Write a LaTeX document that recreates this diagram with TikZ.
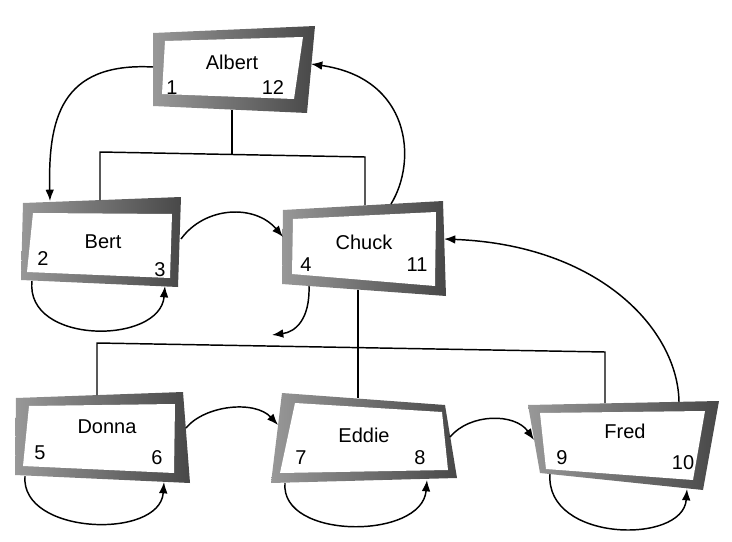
\documentclass[tikz,border=0pt]{standalone}
\usepackage{fontspec}
\setmainfont{Liberation Sans}
\usetikzlibrary{arrows.meta}
\definecolor{frameleft}{RGB}{152,152,152}
\definecolor{frameright}{RGB}{72,72,72}

\begin{document}
\begin{tikzpicture}[x=0.75pt,y=0.75pt,yscale=-1,xscale=1,
  frame/.style={left color=frameleft, right color=frameright},
  pane/.style={fill=white},
  tag/.style={font=\fontsize{15}{18}\selectfont, inner sep=0pt},
  link/.style={line width=1.1pt},
  move/.style={line width=1.1pt, -{Latex[length=8.5pt,width=6.5pt]}}]
\useasboundingbox (0,0) rectangle (732,542);

%Shape: Albert
\shade [frame] (153,33) -- (315,26) -- (307,113) -- (153,106) -- cycle ;
\fill [pane] (165,41) -- (303,37) -- (294,99) -- (162,94) -- cycle ;
%Shape: Bert
\shade [frame] (23,203) -- (181,197) -- (178,287) -- (21,280) -- cycle ;
\fill [pane] (33,213) -- (172,214) -- (170,278) -- (27,272) -- cycle ;
%Shape: Chuck
\shade [frame] (283,210) -- (443,201) -- (446,296) -- (282,284) -- cycle ;
\fill [pane] (293,219) -- (436,212) -- (435,286) -- (292,274) -- cycle ;
%Shape: Donna
\shade [frame] (16,398) -- (183,392) -- (190,483) -- (15,475) -- cycle ;
\fill [pane] (29,406) -- (175,404) -- (174,473) -- (23,466) -- cycle ;
%Shape: Eddie
\shade [frame] (282,393) -- (445,405) -- (457,478) -- (271,483) -- cycle ;
\fill [pane] (295,403) -- (442,412) -- (448,470) -- (280,473) -- cycle ;
%Shape: Fred
\shade [frame] (528,405) -- (719,401) -- (703,490) -- (540,473) -- cycle ;
\fill [pane] (540,413) -- (705,411) -- (693,480) -- (546,469) -- cycle ;

% Ports
\coordinate (albert-w) at (153,67);
\coordinate (albert-s) at (232,110);
\coordinate (albert-e) at (311,64);
\coordinate (albert-fork) at (232,154.5);
\coordinate (bert-n) at (100,200);
\coordinate (bert-in) at (50,201);
\coordinate (bert-e) at (181,239);
\coordinate (bert-out) at (32,281);
\coordinate (bert-back) at (165,286);
\coordinate (chuck-n) at (365,205);
\coordinate (chuck-up) at (391,204);
\coordinate (chuck-w) at (283,237);
\coordinate (chuck-e) at (444,239);
\coordinate (chuck-s) at (358,290);
\coordinate (chuck-out) at (309,286);
\coordinate (chuck-end) at (272,335);
\coordinate (donna-n) at (97,395);
\coordinate (donna-e) at (186,428);
\coordinate (donna-out) at (25,476);
\coordinate (donna-back) at (164,482);
\coordinate (eddie-n) at (358,398);
\coordinate (eddie-w) at (278,425);
\coordinate (eddie-e) at (450,437);
\coordinate (eddie-out) at (285,483);
\coordinate (eddie-back) at (427,480);
\coordinate (fred-n) at (605,403);
\coordinate (fred-up) at (679,402);
\coordinate (fred-w) at (534,440);
\coordinate (fred-out) at (550,474);
\coordinate (fred-back) at (687,489);

%Straight Lines: upper tree
\draw [link] (albert-s) -- (albert-fork) ;
\draw [link] (bert-n) -- (100,152) -- (365,157) -- (chuck-n) ;
%Straight Lines: lower tree
\draw [link] (chuck-s) -- (eddie-n) ;
\draw [link] (donna-n) -- (97,343) -- (605,352) -- (fred-n) ;

%Curve Lines
\draw [move] (albert-w) .. controls (60,62) and (48,120) .. (bert-in) ;
\draw [move] (bert-e) .. controls (205,206) and (255,204) .. (chuck-w) ;
\draw [move] (bert-out) .. controls (25,345) and (160,345) .. (bert-back) ;
\draw [move] (chuck-up) .. controls (418,160) and (410,78) .. (albert-e) ;
\draw [move] (chuck-out) .. controls (310,320) and (295,332) .. (chuck-end) ;
\draw [move] (donna-e) .. controls (205,405) and (255,400) .. (eddie-w) ;
\draw [move] (donna-out) .. controls (20,535) and (160,540) .. (donna-back) ;
\draw [move] (eddie-e) .. controls (470,413) and (515,413) .. (fred-w) ;
\draw [move] (eddie-out) .. controls (280,540) and (422,540) .. (eddie-back) ;
\draw [move] (fred-out) .. controls (545,542) and (683,545) .. (fred-back) ;
\draw [move] (fred-up) .. controls (678,330) and (600,245) .. (chuck-e) ;

% Text Node
\draw (232,62) node [tag] (albert) {Albert};
\draw (172,88) node [tag] (albert-in) {1};
\draw (273,88) node [tag] (albert-outn) {12};
% Text Node
\draw (103,242) node [tag] (bert) {Bert};
\draw (43,259) node [tag] (bert-inn) {2};
\draw (160,270) node [tag] (bert-outn) {3};
% Text Node
\draw (364,242) node [tag] (chuck) {Chuck};
\draw (306,265) node [tag] (chuck-inn) {4};
\draw (417,265) node [tag] (chuck-outn) {11};
% Text Node
\draw (107,427) node [tag] (donna) {Donna};
\draw (40,453) node [tag] (donna-inn) {5};
\draw (157,458) node [tag] (donna-outn) {6};
% Text Node
\draw (364,435) node [tag] (eddie) {Eddie};
\draw (301,458) node [tag] (eddie-inn) {7};
\draw (420,458) node [tag] (eddie-outn) {8};
% Text Node
\draw (625,431) node [tag] (fred) {Fred};
\draw (562,458) node [tag] (fred-inn) {9};
\draw (683,463) node [tag] (fred-outn) {10};

\end{tikzpicture}
\end{document}
